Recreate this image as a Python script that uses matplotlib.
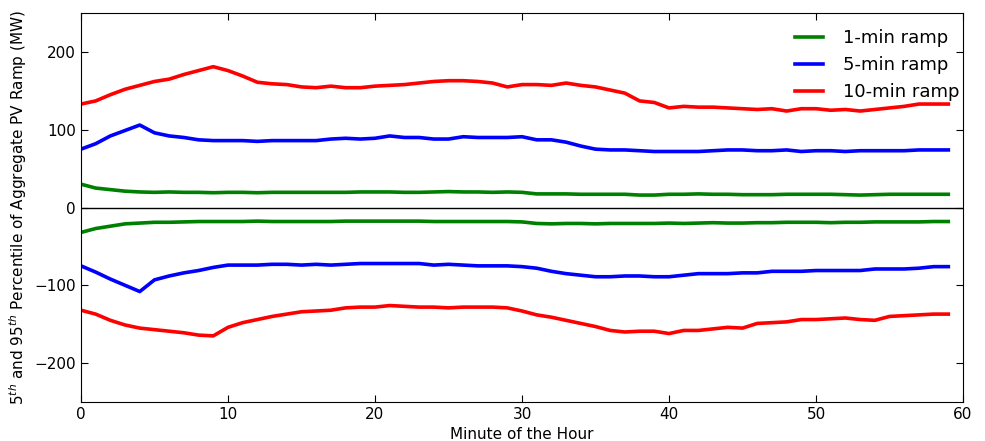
import matplotlib
matplotlib.use("Agg")
import matplotlib.pyplot as plt
import numpy as np

# --- Data ---
minutes = np.arange(60)

green_hi = [30, 25, 23, 21, 20, 19.5, 20, 19.5, 19.5, 19,
            19.5, 19.5, 19, 19.5, 19.5, 19.5, 19.5, 19.5, 19.5, 20,
            20, 20, 19.5, 19.5, 20, 20.5, 20, 20, 19.5, 20,
            19.5, 17.5, 17.5, 17.5, 17, 17, 17, 17, 16, 16,
            17, 17, 17.5, 17, 17, 16.5, 16.5, 16.5, 17, 17,
            17, 17, 16.5, 16, 16.5, 17, 17, 17, 17, 17]
green_lo = [-32, -27, -24, -21, -20, -19, -19, -18.5, -18, -18,
            -18, -18, -17.5, -18, -18, -18, -18, -18, -17.5, -17.5,
            -17.5, -17.5, -17.5, -17.5, -18, -18, -18, -18, -18, -18,
            -18.5, -20.5, -21, -20.5, -20.5, -21, -20.5, -20.5, -20.5, -20.5,
            -20, -20.5, -20, -19.5, -20, -20, -19.5, -19.5, -19, -19,
            -19, -19.5, -19, -19, -18.5, -18.5, -18.5, -18.5, -18, -18]

blue_hi = [75, 82, 92, 99, 106, 96, 92, 90, 87, 86,
           86, 86, 85, 86, 86, 86, 86, 88, 89, 88,
           89, 92, 90, 90, 88, 88, 91, 90, 90, 90,
           91, 87, 87, 84, 79, 75, 74, 74, 73, 72,
           72, 72, 72, 73, 74, 74, 73, 73, 74, 72,
           73, 73, 72, 73, 73, 73, 73, 74, 74, 74]
blue_lo = [-75, -83, -92, -100, -108, -93, -88, -84, -81, -77,
           -74, -74, -74, -73, -73, -74, -73, -74, -73, -72,
           -72, -72, -72, -72, -74, -73, -74, -75, -75, -75,
           -76, -78, -82, -85, -87, -89, -89, -88, -88, -89,
           -89, -87, -85, -85, -85, -84, -84, -82, -82, -82,
           -81, -81, -81, -81, -79, -79, -79, -78, -76, -76]

red_hi = [133, 137, 145, 152, 157, 162, 165, 171, 176, 181,
          176, 169, 161, 159, 158, 155, 154, 156, 154, 154,
          156, 157, 158, 160, 162, 163, 163, 162, 160, 155,
          158, 158, 157, 160, 157, 155, 151, 147, 137, 135,
          128, 130, 129, 129, 128, 127, 126, 127, 124, 127,
          127, 125, 126, 124, 126, 128, 130, 133, 133, 133]
red_lo = [-132, -137, -145, -151, -155, -157, -159, -161, -164, -165,
          -154, -148, -144, -140, -137, -134, -133, -132, -129, -128,
          -128, -126, -127, -128, -128, -129, -128, -128, -128, -129,
          -133, -138, -141, -145, -149, -153, -158, -160, -159, -159,
          -162, -158, -158, -156, -154, -155, -149, -148, -147, -144,
          -144, -143, -142, -144, -145, -140, -139, -138, -137, -137]

fig = plt.figure(figsize=(9.85, 4.41), dpi=100)
ax = fig.add_axes([0.0822, 0.0884, 0.8955, 0.8821])

lw = 2.6
ax.axhline(0, color="black", linewidth=1.0, zorder=1)
ax.plot(minutes, green_hi, color="green", lw=lw, label="1-min ramp")
ax.plot(minutes, blue_hi, color="blue", lw=lw, label="5-min ramp")
ax.plot(minutes, red_hi, color="red", lw=lw, label="10-min ramp")
ax.plot(minutes, green_lo, color="green", lw=lw)
ax.plot(minutes, blue_lo, color="blue", lw=lw)
ax.plot(minutes, red_lo, color="red", lw=lw)

ax.set_xlim(0, 60)
ax.set_ylim(-250, 250)
ax.set_xticks(range(0, 61, 10))
ax.set_yticks([-200, -100, 0, 100, 200])
ax.tick_params(direction="in", top=True, right=True, length=5, labelsize=11)
ax.set_xlabel("Minute of the Hour", fontsize=11)
ax.set_ylabel("5$^{th}$ and 95$^{th}$ Percentile of Aggregate PV Ramp (MW)", fontsize=11)

ax.legend(loc="upper right", bbox_to_anchor=(1.014, 1.0), frameon=False,
          fontsize=13, handlelength=1.55, handletextpad=1.1)

fig.savefig("out.png", dpi=100)
